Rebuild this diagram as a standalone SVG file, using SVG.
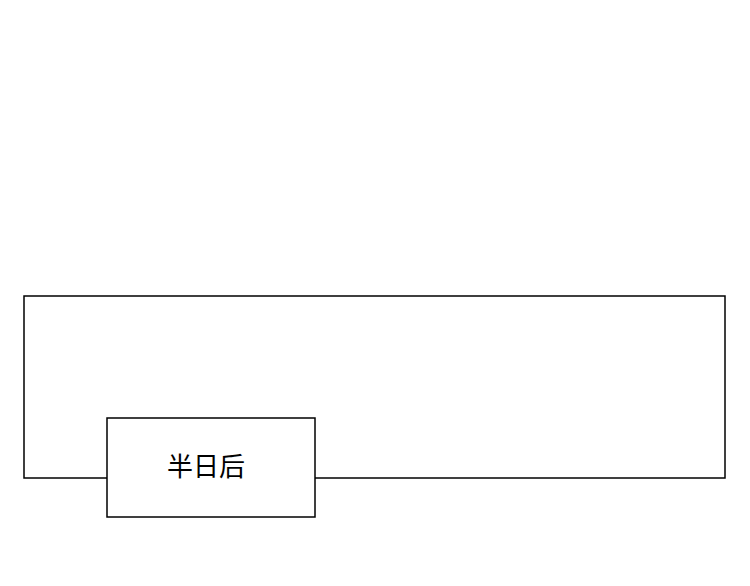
<svg xmlns="http://www.w3.org/2000/svg" width="750" height="586" viewBox="0 0 750 586"><style>.b{fill:#fff;stroke:#000;stroke-width:1.5}</style><rect width="750" height="586" fill="#fff"/><g id="panel"><rect class="b" x="24" y="296" width="701" height="182"/></g><g id="caption"><rect class="b" x="107" y="418" width="208" height="99"/><text x="206" y="476" text-anchor="middle" font-family="Noto Sans CJK SC, sans-serif" font-size="26">半日后</text></g></svg>
